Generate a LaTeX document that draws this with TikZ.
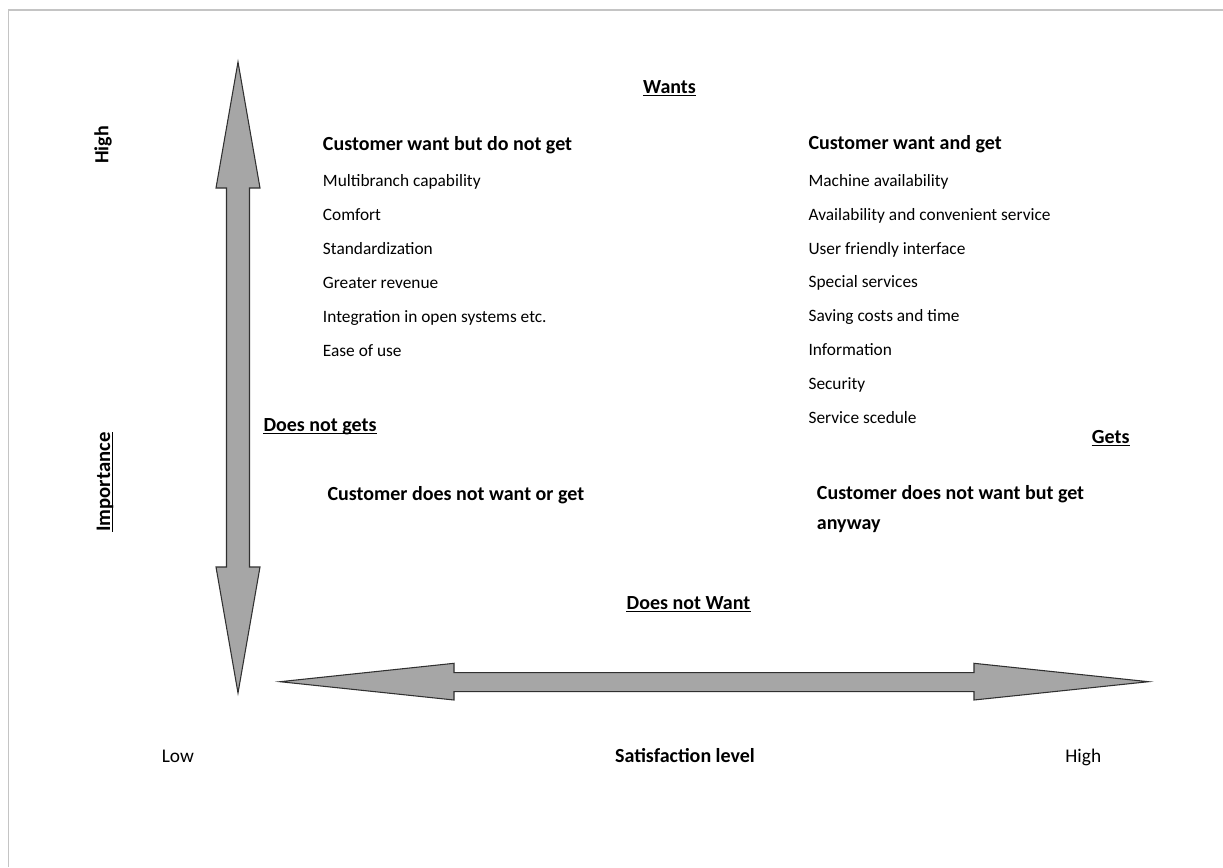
\documentclass[tikz,border=0pt]{standalone}
\usepackage{fontspec}
\setmainfont{Carlito}
\usetikzlibrary{calc}
\definecolor{arrowgray}{HTML}{A6A6A6}
\definecolor{arrowedge}{HTML}{303030}
\definecolor{framegray}{HTML}{C4C4C4}
% underline drawn just under the baseline of a named node (works when rotated)
\newcommand\ulnode[1]{\draw[uline] ($(#1.base west)!1.6pt!-90:(#1.base east)$) -- ($(#1.base east)!1.6pt!90:(#1.base west)$);}
\begin{document}
\begin{tikzpicture}[x=0.75pt,y=-0.75pt,
  item/.style={anchor=base west, inner sep=0pt, font=\fontsize{13}{15}\selectfont},
  head/.style={anchor=base west, inner sep=0pt, font=\fontsize{15}{22}\selectfont\bfseries},
  axislab/.style={anchor=base, inner sep=0pt, font=\fontsize{15}{18}\selectfont\bfseries},
  endlab/.style={anchor=base, inner sep=0pt, font=\fontsize{14.5}{17}\selectfont},
  uline/.style={line width=0.9pt, black},
  bigarrow/.style={fill=arrowgray, draw=arrowedge, line width=0.8pt, line join=miter}]
\useasboundingbox (0,0) rectangle (1223,867);
\draw[framegray, line width=0.9pt] (8.5,867) -- (8.5,10) -- (1223,10);

% importance axis (vertical double arrow)
\draw[bigarrow] (238,62) -- (260,188) -- (249.5,188) -- (249.5,567) -- (260,567)
  -- (238,693) -- (216,567) -- (226.5,567) -- (226.5,188) -- (216,188) -- cycle;
% satisfaction axis (horizontal double arrow)
\draw[bigarrow] (280,681.7) -- (454,663.3) -- (454,672.7) -- (974,672.7) -- (974,663.3)
  -- (1148.5,681.7) -- (974,700) -- (974,691.7) -- (454,691.7) -- (454,700) -- cycle;

% axis captions
\node[axislab] (wants) at (669.5,93.3) {Wants};
\ulnode{wants}
\node[axislab, rotate=90] (high) at (108.3,145) {High};
\node[axislab, rotate=90, font=\fontsize{15.5}{18}\selectfont\bfseries] (imp) at (110,482) {Importance};
\ulnode{imp}
\node[axislab, anchor=base west] (dng) at (263.3,431.7) {Does not gets};
\ulnode{dng}
\node[axislab, anchor=base west] (gets) at (1091.7,443.3) {Gets};
\ulnode{gets}
\node[axislab] (dnw) at (688.5,609) {Does not Want};
\ulnode{dnw}
\node[endlab] (low) at (177.8,762) {Low};
\node[axislab] (sat) at (685,762) {Satisfaction level};
\node[endlab] (highx) at (1083.3,762) {High};

% quadrant: want but do not get
\node[head] (q1) at (322.7,150) {Customer want but do not get};
\foreach \t [count=\i from 0] in {Multibranch capability, Comfort, Standardization,
  Greater revenue, Integration in open systems etc., Ease of use}
  \node[item] (l\i) at (322.7,{186.6+33.9*\i}) {\t};

% quadrant: want and get
\node[head] (q2) at (808.3,149.3) {Customer want and get};
\foreach \t [count=\i from 0] in {Machine availability, Availability and convenient service,
  User friendly interface, Special services, Saving costs and time, Information,
  Security, Service scedule}
  \node[item] (r\i) at (808.3,{186.2+33.9*\i}) {\t};

% lower quadrants (the two-line block sits on the baseline of its last line)
\node[head] (q3) at (327.3,500) {Customer does not want or get};
\node[head, align=left] (q4) at (816.7,529.3) {Customer does not want but get\\anyway};
\end{tikzpicture}
\end{document}
